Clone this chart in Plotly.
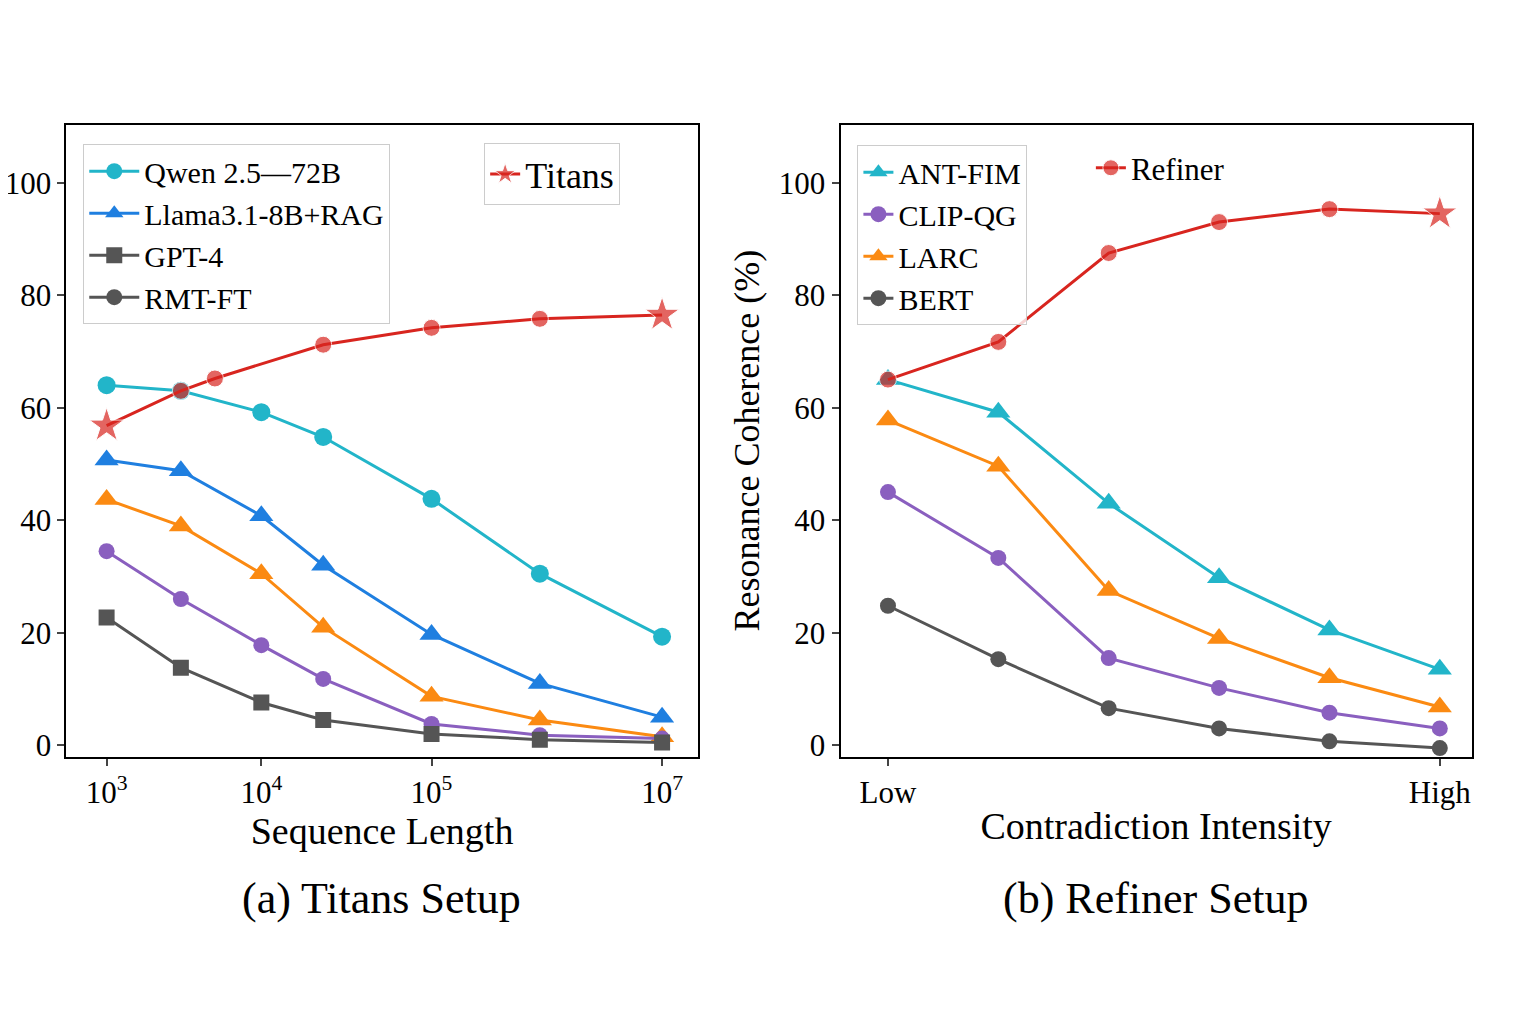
import plotly.graph_objects as go

# panel (a): positions along a warped log axis
seq_pos = [0, 0.48, 1, 1.4, 2.1, 2.8, 3.59]
titans_pos = [0, 0.48, 0.70, 1.4, 2.1, 2.8, 3.59]
titans = [56.8, 63.0, 65.2, 71.2, 74.2, 75.8, 76.5]
qwen = [64.0, 63.0, 59.2, 54.8, 43.8, 30.5, 19.3]
llama = [50.7, 48.8, 40.8, 32.0, 19.7, 11.0, 5.0]
orange_a = [43.7, 39.0, 30.5, 21.0, 8.7, 4.5, 1.5]
purple_a = [34.5, 26.0, 17.8, 11.8, 3.8, 1.8, 1.2]
gpt4 = [22.7, 13.8, 7.6, 4.5, 2.0, 1.0, 0.5]
a_tickvals = [0, 1, 2.1, 3.59]
a_ticktext = ["10<sup>3</sup>", "10<sup>4</sup>", "10<sup>5</sup>", "10<sup>7</sup>"]

# panel (b)
intensity = [0, 1, 2, 3, 4, 5]
refiner = [65.0, 71.7, 87.5, 93.0, 95.3, 94.5]
antfim = [65.0, 59.2, 43.0, 29.8, 20.5, 13.5]
clipqg = [45.0, 33.3, 15.5, 10.2, 5.8, 3.0]
larc = [57.8, 49.6, 27.5, 19.0, 12.0, 6.8]
bert = [24.8, 15.3, 6.6, 3.0, 0.7, -0.5]

CYAN, BLUE, ORANGE, PURPLE, GRAY, RED = "#22b5c9", "#1f7fe0", "#fb8a12", "#8a5fbf", "#555555", "#d8251f"
FONT = "Liberation Serif"

fig = go.Figure()

def add(x, y, name, color, symbol, xa, ya, legend, size=18, showlegend=True):
    fig.add_trace(go.Scatter(
        x=x, y=y, name=name, mode="lines+markers", xaxis=xa, yaxis=ya,
        line=dict(color=color, width=3), marker=dict(color=color, symbol=symbol, size=size),
        legend=legend, showlegend=showlegend))

# panel a
add(seq_pos, qwen, "Qwen 2.5\u201472B", CYAN, "circle", "x", "y", "legend")
add(seq_pos, llama, "Llama3.1-8B+RAG", BLUE, "triangle-up", "x", "y", "legend", 21)
add(seq_pos, orange_a, "", ORANGE, "triangle-up", "x", "y", "legend", 21, False)
add(seq_pos, purple_a, "", PURPLE, "circle", "x", "y", "legend", 16, False)
add(seq_pos, gpt4, "GPT-4", GRAY, "square", "x", "y", "legend", 16)
fig.add_trace(go.Scatter(x=[None], y=[None], name="RMT-FT", mode="lines+markers",
                         line=dict(color=GRAY, width=3), marker=dict(color=GRAY, size=16), legend="legend"))
fig.add_trace(go.Scatter(
    x=titans_pos, y=titans, name="Titans", mode="lines+markers", xaxis="x", yaxis="y",
    line=dict(color=RED, width=3),
    marker=dict(color=RED, size=[26, 17, 17, 17, 17, 17, 26],
                symbol=["star", "circle", "circle", "circle", "circle", "circle", "star"]),
    legend="legend2"))

# panel b
add(intensity, antfim, "ANT-FIM", CYAN, "triangle-up", "x2", "y2", "legend3", 21)
add(intensity, clipqg, "CLIP-QG", PURPLE, "circle", "x2", "y2", "legend3", 16)
add(intensity, larc, "LARC", ORANGE, "triangle-up", "x2", "y2", "legend3", 21)
add(intensity, bert, "BERT", GRAY, "circle", "x2", "y2", "legend3", 16)
fig.add_trace(go.Scatter(
    x=intensity, y=refiner, name="Refiner", mode="lines+markers", xaxis="x2", yaxis="y2",
    line=dict(color=RED, width=3),
    marker=dict(color=RED, size=[17, 17, 17, 17, 17, 26],
                symbol=["circle"] * 5 + ["star"]),
    legend="legend4"))

axis_common = dict(showline=True, linecolor="black", linewidth=2, mirror=True, ticks="outside",
                   ticklen=7, tickwidth=1.5, showgrid=False, zeroline=False, automargin=False,
                   tickfont=dict(size=31, family=FONT, color="black"))
yd = [0.269, 0.886]
fig.update_layout(
    width=1536, height=1024, margin=dict(l=0, r=0, t=0, b=0, autoexpand=False),
    paper_bgcolor="white", plot_bgcolor="white",
    font=dict(family=FONT, color="black"),
    xaxis=dict(domain=[0.038, 0.449], range=[-0.26, 3.82], tickvals=a_tickvals, ticktext=a_ticktext,
               title=dict(text="Sequence Length", font=dict(size=38), standoff=4), **axis_common),
    yaxis=dict(domain=yd, range=[-2, 110.3], tickvals=[0, 20, 40, 60, 80, 100], **axis_common),
    xaxis2=dict(domain=[0.542, 0.953], range=[-0.43, 5.29], tickvals=[0, 5], ticktext=["Low", "High"],
                anchor="y2", title=dict(text="Contradiction Intensity", font=dict(size=38), standoff=4),
                **axis_common),
    yaxis2=dict(domain=yd, range=[-2, 110.3], anchor="x2", tickvals=[0, 20, 40, 60, 80, 100],
                title=dict(text="Resonance Coherence (%)", font=dict(size=36), standoff=8), **axis_common),
    legend=dict(x=0.049, y=0.867, xanchor="left", yanchor="top", font=dict(size=30),
                bordercolor="#cccccc", borderwidth=1, bgcolor="rgba(255,255,255,0.8)",
                itemwidth=50, tracegroupgap=2),
    legend2=dict(x=0.31, y=0.868, xanchor="left", yanchor="top", font=dict(size=36),
                 bordercolor="#cccccc", borderwidth=1, bgcolor="white"),
    legend3=dict(x=0.553, y=0.866, xanchor="left", yanchor="top", font=dict(size=30),
                 bordercolor="#cccccc", borderwidth=1, bgcolor="rgba(255,255,255,0.8)"),
    legend4=dict(x=0.705, y=0.87, xanchor="left", yanchor="top", font=dict(size=31),
                 bgcolor="rgba(0,0,0,0)"),
    annotations=[
        dict(text="(a) Titans Setup", x=0.243, y=1 - 890 / 1024, xref="paper", yref="paper",
             xanchor="center", yanchor="middle", showarrow=False, font=dict(size=44, family=FONT)),
        dict(text="(b) Refiner Setup", x=0.747, y=1 - 890 / 1024, xref="paper", yref="paper",
             xanchor="center", yanchor="middle", showarrow=False, font=dict(size=44, family=FONT)),
    ],
)

fig.write_html("out.html")
